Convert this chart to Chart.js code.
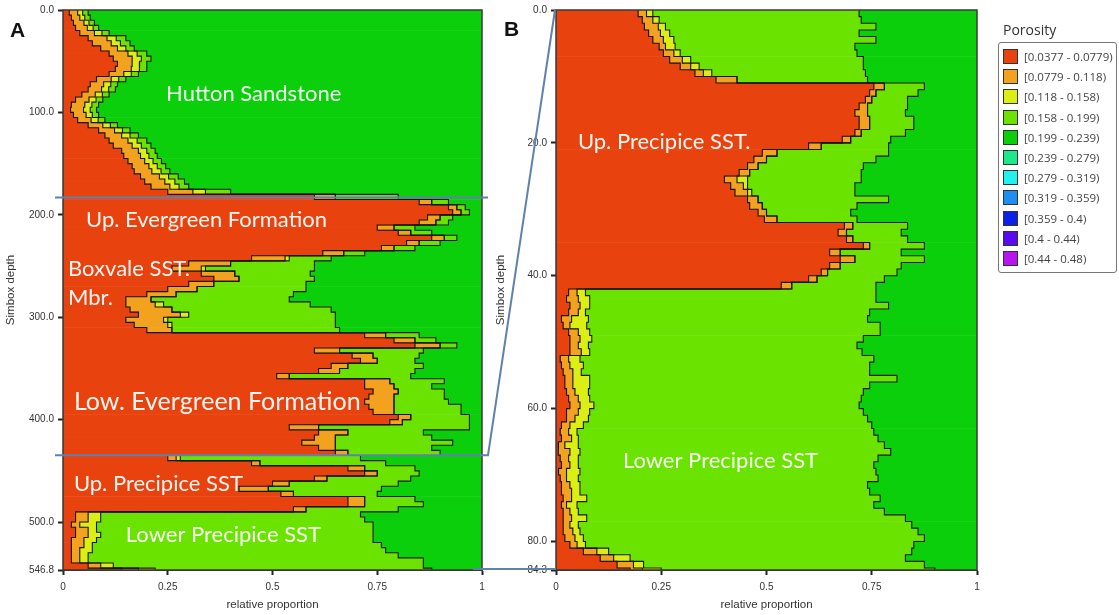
<!DOCTYPE html>
<html>
<head>
<meta charset="utf-8">
<script src="https://cdn.jsdelivr.net/npm/chart.js@4.4.1/dist/chart.umd.min.js"></script>
<style>
html,body{margin:0;padding:0;background:#fff;}
body{width:1119px;height:615px;position:relative;overflow:hidden;font-family:"Liberation Sans",Arial,sans-serif;}
canvas{position:absolute;top:0;}
#ca{left:0}
#cb{left:490px}
#ov{left:0;pointer-events:none}
.pl{position:absolute;font:bold 21px "Liberation Sans",Arial,sans-serif;color:#111;line-height:1}
#legTitle{position:absolute;left:1003px;top:20px;font:14px "Open Sans",sans-serif;color:#333}
#legBox{position:absolute;left:998px;top:42px;width:119px;height:231px;border:1px solid #777;border-radius:3px;box-sizing:border-box}
.li{position:absolute;left:4px;height:16px;white-space:nowrap}
.sw{position:absolute;left:0;top:0;width:15px;height:15px;box-sizing:border-box;border:1px solid #333}
.lt{position:absolute;left:21px;top:0;font:11.5px "Open Sans",sans-serif;color:#444;line-height:15px}
</style>
</head>
<body>
<canvas id="ca" width="495" height="615"></canvas>
<canvas id="cb" width="500" height="615"></canvas>
<canvas id="ov" width="1119" height="615"></canvas>
<div class="pl" style="left:10px;top:19px">A</div>
<div class="pl" style="left:504px;top:18px">B</div>
<div id="legTitle">Porosity</div>
<div id="legBox"></div>
<script>
// ---------- classes ----------
const classLabels = ['[0.0377 - 0.0779)','[0.0779 - 0.118)','[0.118 - 0.158)','[0.158 - 0.199)','[0.199 - 0.239)','[0.239 - 0.279)','[0.279 - 0.319)','[0.319 - 0.359)','[0.359 - 0.4)','[0.4 - 0.44)','[0.44 - 0.48)'];
const classColors = ['#E8420E','#F2A21E','#DCEF14','#6BE300','#0CCF0C','#1EE88C','#22F2EE','#1E8EF0','#0A22E8','#5A0AF0','#B814F0'];

// ---------- axes ----------
const depthMaxA = 546.8;
const depthMaxB = 84.3;
const binA = 5;   // depth step of panel A rows
const binB = 1;   // depth step of panel B rows
const yTicksA = [0, 100, 200, 300, 400, 500, 546.8];
const yTicksB = [0, 20, 40, 60, 80, 84.3];
const xTicks = [0, 0.25, 0.5, 0.75, 1];
const zoneLinesA = [183, 434.7];

// ---------- panel A proportions (rows of 5 depth units, top to bottom) ----------
const redA = [.015,.02,.025,.03,.04,.06,.07,.09,.11,.12,.13,.125,.11,.08,.065,.06,.045,.03,.02,.018,
.025,.035,.06,.085,.1,.11,.12,.14,.145,.155,.165,.17,.185,.195,.21,.25,.6,.85,.92,.93,
.87,.85,.75,.8,.88,.82,.76,.62,.45,.3,.26,.33,.36,.3,.25,.2,.15,.15,.16,.18,
.15,.17,.2,.72,.79,.84,.6,.69,.71,.64,.61,.51,.72,.72,.74,.73,.72,.73,.74,.8,
.78,.54,.61,.6,.57,.61,.65,.25,.45,.68,.72,.6,.5,.42,.52,.68,.68,.55,.03,.03,
.02,.03,.03,.02,.02,.02,.02,.02,.06,.14];
const orangeA = [.02,.02,.025,.028,.035,.045,.045,.04,.045,.045,.035,.038,.035,.035,.032,.032,.032,.032,.032,.031,
.03,.032,.035,.038,.04,.045,.045,.04,.04,.04,.04,.042,.045,.048,.045,.06,.05,.03,.02,.02,
.03,.04,.04,.03,.03,.03,.03,.05,.08,.1,.07,.08,.06,.06,.07,.07,.06,.07,.1,.1,
.09,.08,.06,.05,.05,.06,.06,.05,.04,.04,.05,.03,.06,.07,.06,.06,.07,.06,.05,.03,
.03,.07,.07,.05,.08,.04,.03,.02,.02,.04,.03,.03,.04,.07,.03,.04,.04,.03,.03,.03,
.02,.03,.03,.03,.03,.02,.02,.02,.03,.04];
const yellowA = [.012,.012,.012,.014,.018,.022,.022,.02,.022,.022,.018,.019,.018,.018,.017,.017,.017,.017,.017,.016,
.015,.017,.018,.019,.02,.022,.022,.02,.02,.02,.02,.022,.022,.024,.022,.03,0,0,0,0,
0,0,0,0,0,0,0,0,.01,0,.01,0,0,0,0,0,0,.02,0,.02,
.01,.01,0,0,0,0,0,0,0,0,0,0,0,0,0,0,0,0,0,0,
0,0,0,0,0,0,0,.01,0,0,0,0,0,0,0,0,0,0,.03,.03,
.04,.02,.03,.03,.02,.03,.02,.02,.03,.04];
const ltGreenA = [.013,.013,.013,.013,.017,.023,.023,.02,.023,.023,.017,.018,.017,.017,.016,.016,.016,.016,.016,.015,
.015,.016,.017,.018,.02,.023,.023,.02,.02,.02,.02,.021,.023,.023,.023,.06,.15,.04,.02,.02,
.03,.03,.05,.05,.03,.05,.05,.05,.1,.2,.26,.18,.18,.22,.26,.28,.33,.35,.38,.35,
.4,.39,.4,.08,.05,.04,.2,.11,.09,.18,.18,.29,.13,.09,.11,.12,.13,.16,.16,.14,
.16,.36,.18,.23,.28,.23,.22,.43,.3,.12,.1,.2,.26,.27,.2,.12,.14,.22,.62,.63,
.66,.66,.65,.66,.69,.7,.74,.8,.74,.66];
const greenA = [.94,.935,.925,.915,.89,.85,.84,.83,.8,.79,.8,.8,.82,.85,.87,.875,.89,.905,.915,.92,
.915,.9,.87,.84,.82,.8,.79,.78,.775,.765,.755,.745,.725,.71,.7,.6,.2,.08,.04,.03,
.07,.08,.16,.12,.06,.1,.16,.28,.36,.4,.4,.41,.4,.42,.42,.45,.46,.41,.36,.35,
.35,.35,.34,.15,.11,.06,.14,.15,.16,.14,.16,.17,.09,.12,.09,.09,.08,.05,.05,.03,
.03,.03,.14,.12,.07,.12,.1,.29,.23,.16,.15,.17,.2,.24,.25,.16,.14,.2,.29,.28,
.26,.26,.26,.26,.24,.23,.2,.14,.14,.12];

// ---------- panel B proportions (rows of 1 depth unit, top to bottom) ----------
const redB = [.195,.205,.21,.22,.23,.245,.255,.27,.295,.33,.38,.755,.745,.735,.72,.71,.72,.72,.71,.68,
.6,.49,.47,.455,.435,.4,.415,.425,.455,.46,.48,.495,.685,.67,.69,.73,.65,.675,.65,.63,
.6,.535,.03,.025,.033,.03,.013,.017,.03,.033,.033,.033,.01,.013,.017,.021,.021,.025,.03,.033,
.025,.025,.013,.01,.013,.006,.005,.01,.013,.006,.01,.013,.013,.017,.013,.017,.017,.017,.017,.021,
.033,.065,.105,.145,.176];
const orangeB = [.02,.025,.033,.028,.025,.015,.025,.03,.025,.02,.05,.025,.015,.015,.02,.03,.025,.025,.015,.02,
.03,.035,.03,.025,.025,.03,.03,.03,.025,.03,.02,.03,.02,.02,.015,.015,.025,.035,.025,.015,
.02,.025,.02,.028,.024,.023,.024,.016,.023,.024,.02,.027,.02,.02,.023,.019,.019,.02,.023,.024,
.028,.02,.02,.02,.024,.015,.028,.02,.02,.019,.015,.02,.024,.02,.012,.016,.02,.016,.023,.024,
.017,.032,.032,.039,.029];
const yellowB = [.015,.015,.017,.022,.025,.023,.015,.02,.02,.02,0,0,0,0,0,0,0,0,0,0,
0,0,0,0,0,.025,.01,.01,0,0,0,0,0,0,0,0,0,0,0,0,
0,0,.02,.027,.023,.017,.04,.04,.027,.028,.024,.02,.027,.032,.02,.04,.04,.032,.027,.033,
.027,.032,.032,.02,.016,.032,.024,.023,.02,.032,.028,.024,.02,.036,.025,.02,.036,.02,.017,.02,
.02,.028,.039,.024,.045];
const ltGreenB = [.49,.48,.5,.45,.48,.427,.42,.41,.39,.365,.31,.095,.1,.085,.095,.09,.105,.105,.105,.095,
.16,.265,.26,.25,.265,.27,.255,.245,.31,.225,.2,.19,.13,.13,.13,.13,.145,.165,.145,.165,
.16,.2,.69,.68,.71,.675,.663,.697,.69,.645,.638,.647,.698,.68,.685,.73,.665,.653,.645,.63,
.65,.663,.685,.705,.712,.727,.738,.712,.702,.703,.712,.683,.688,.697,.705,.727,.757,.792,.803,.81,
.78,.72,.654,.667,.65];
const greenB = [.28,.275,.24,.28,.24,.29,.285,.27,.27,.265,.26,.125,.14,.165,.165,.17,.15,.15,.17,.205,
.21,.21,.24,.27,.275,.275,.29,.29,.21,.285,.3,.285,.165,.18,.165,.125,.18,.125,.18,.19,
.22,.24,.24,.24,.21,.255,.26,.23,.23,.27,.285,.273,.245,.255,.255,.19,.255,.27,.275,.28,
.27,.26,.25,.245,.235,.22,.205,.235,.245,.24,.235,.26,.255,.23,.245,.22,.17,.155,.14,.125,
.15,.155,.17,.125,.1];

// ---------- annotations ----------
const textsA = [
  {t:'Hutton Sandstone', x:0.246, d:88.7, size:22},
  {t:'Up. Evergreen Formation', x:0.055, d:212, size:22},
  {t:'Boxvale SST.', x:0.012, d:260, size:22},
  {t:'Mbr.', x:0.012, d:288.5, size:22},
  {t:'Low. Evergreen Formation', x:0.026, d:391, size:25},
  {t:'Up. Precipice SST', x:0.026, d:470, size:22},
  {t:'Lower Precipice SST', x:0.15, d:519, size:22}
];
const textsB = [
  {t:'Up. Precipice SST.', x:0.052, d:20.9, size:22},
  {t:'Lower Precipice SST', x:0.159, d:69, size:22}
];

const tickFont = {family:'"Liberation Sans", Arial, sans-serif', size:10};
const titleFont = {family:'"Liberation Sans", Arial, sans-serif', size:11.5};

const framePlugin = {
  id:'frame',
  afterDatasetsDraw(chart){
    const {ctx, chartArea:a} = chart;
    ctx.save();
    ctx.strokeStyle = '#3a3a3a';
    ctx.lineWidth = 1.5;
    ctx.strokeRect(a.left, a.top, a.right - a.left, a.bottom - a.top);
    ctx.restore();
    const texts = chart.options.plugins.zoneText.items;
    const xs = chart.scales.x, ys = chart.scales.y;
    ctx.save();
    ctx.textBaseline = 'alphabetic';
    ctx.textAlign = 'left';
    ctx.fillStyle = 'rgba(255,255,255,0.95)';
    texts.forEach(o => {
      ctx.font = o.size + 'px Lato, "Open Sans", sans-serif';
      ctx.fillText(o.t, xs.getPixelForValue(o.x), ys.getPixelForValue(o.d));
    });
    ctx.restore();
  }
};

function makeChart(id, series, bin, depthMax, yTicks, texts, axisW) {
  const depth = series[0].map((_, i) => i * bin + bin / 2);
  const datasets = series.map((vals, j) => ({
    type:'bar', label:classLabels[j], stack:'p', order:2,
    data: vals.map((v, i) => ({x:v, y:depth[i]})),
    backgroundColor:classColors[j], borderWidth:0,
    barPercentage:1, categoryPercentage:1
  }));
  for (let j = 0; j < series.length - 1; j++) {
    const pts = [];
    depth.forEach((d, i) => {
      let c = 0;
      for (let q = 0; q <= j; q++) c += series[q][i];
      pts.push({x:c, y:i * bin}, {x:c, y:Math.min((i + 1) * bin, depthMax)});
    });
    datasets.push({type:'line', indexAxis:'y', order:1, data:pts, borderColor:'#161616',
      borderWidth:1.1, pointRadius:0, fill:false, tension:0});
  }
  return new Chart(document.getElementById(id), {
    data:{datasets},
    options:{
      indexAxis:'y', responsive:false, animation:false, events:[],
      layout:{padding:{top:9, right:13, left:0, bottom:0}},
      plugins:{legend:{display:false}, tooltip:{enabled:false}, zoneText:{items:texts}},
      scales:{
        x:{type:'linear', position:'bottom', min:0, max:1, offset:false,
          afterBuildTicks:s => { s.ticks = xTicks.map(v => ({value:v})); },
          afterFit:s => { s.height = 45; },
          ticks:{callback:v => String(v), font:tickFont, color:'#333', padding:6, maxRotation:0, autoSkip:false},
          grid:{drawOnChartArea:false, drawTicks:true, tickLength:5, tickWidth:2, tickColor:'#222', offset:false},
          border:{display:true, color:'#333', width:1},
          title:{display:true, text:'relative proportion', font:titleFont, color:'#333', padding:{top:2, bottom:3}}
        },
        y:{type:'linear', position:'left', reverse:true, min:0, max:depthMax, offset:false,
          afterBuildTicks:s => { s.ticks = yTicks.map(v => ({value:v})); },
          afterFit:s => { s.width = axisW; },
          ticks:{callback:v => Number(v).toFixed(1), font:tickFont, color:'#333', padding:4, autoSkip:false},
          grid:{drawOnChartArea:false, drawTicks:true, tickLength:5, tickWidth:2, tickColor:'#222', offset:false},
          border:{display:true, color:'#333', width:1},
          title:{display:true, text:'Simbox depth', font:titleFont, color:'#333', padding:{top:4, bottom:2}}
        }
      }
    },
    plugins:[framePlugin]
  });
}

const chartA = makeChart('ca', [redA, orangeA, yellowA, ltGreenA, greenA], binA, depthMaxA, yTicksA, textsA, 63);
const chartB = makeChart('cb', [redB, orangeB, yellowB, ltGreenB, greenB], binB, depthMaxB, yTicksB, textsB, 66);

// ---------- connecting lines between panels ----------
(function(){
  const ctx = document.getElementById('ov').getContext('2d');
  const a = chartA.chartArea, ys = chartA.scales.y;
  const bx = 490, b = chartB.chartArea;
  ctx.strokeStyle = '#5f82ad';
  ctx.lineWidth = 2;
  ctx.beginPath();
  const y1 = ys.getPixelForValue(zoneLinesA[0]);
  ctx.moveTo(a.left - 8, y1); ctx.lineTo(a.right + 6, y1);
  const y2 = ys.getPixelForValue(zoneLinesA[1]);
  ctx.moveTo(a.left - 8, y2); ctx.lineTo(a.right + 6, y2); ctx.lineTo(bx + b.left - 1, b.top);
  const y3 = ys.getPixelForValue(depthMaxA) - 1;
  ctx.moveTo(a.right - 9, y3); ctx.lineTo(bx + b.left, y3);
  ctx.stroke();
})();

// ---------- legend ----------
(function(){
  const box = document.getElementById('legBox');
  classLabels.forEach((lab, i) => {
    const d = document.createElement('div');
    d.className = 'li';
    d.style.top = (6 + i * 20.2) + 'px';
    d.innerHTML = '<div class="sw" style="background:' + classColors[i] + '"></div><div class="lt">' + lab + '</div>';
    box.appendChild(d);
  });
})();
</script>
</body>
</html>
